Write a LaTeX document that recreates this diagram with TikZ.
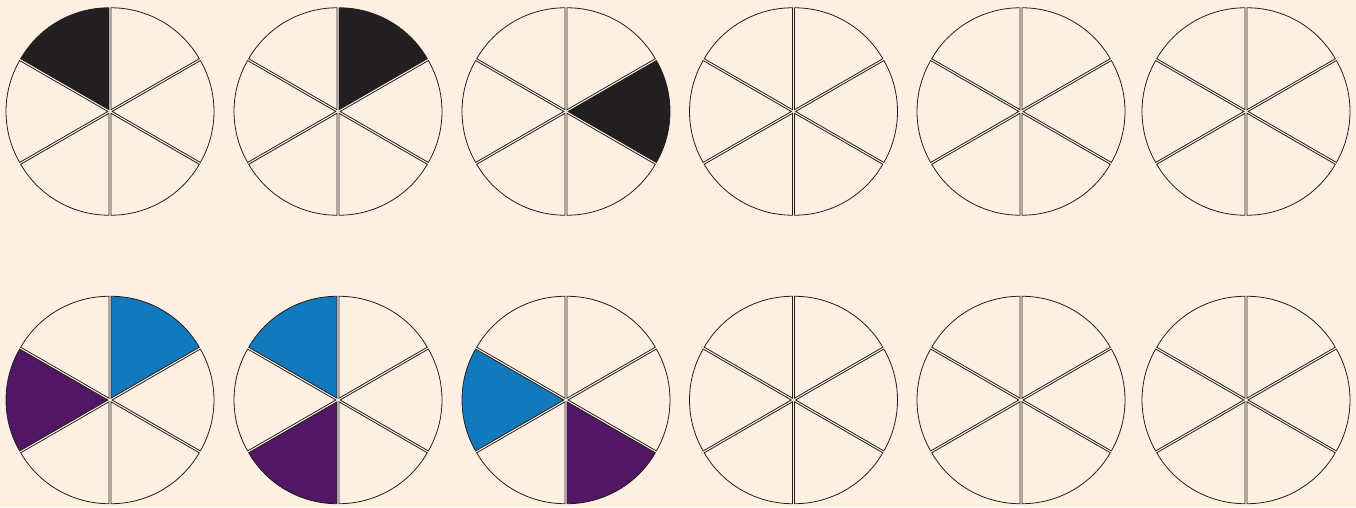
\documentclass[tikz,border=0pt]{standalone}
\definecolor{bg}{RGB}{253,240,227}
\definecolor{inkblack}{RGB}{35,31,32}
\definecolor{pieblue}{RGB}{19,121,189}
\definecolor{piepurple}{RGB}{81,22,100}
\tikzset{
  sect/.style={draw=inkblack, line width=0.6pt, line join=miter},
  pics/wheel/.style n args={6}{code={
    \foreach \a/\c in {90/#1,30/#2,-30/#3,-90/#4,210/#5,150/#6}{
      \draw[sect, fill=\c] (\a+30:1.6pt) -- ++(\a:76.4pt)
        arc[start angle=\a, end angle=\a+60, radius=76.4pt] -- cycle;
    }
  }}
}
\begin{document}
\begin{tikzpicture}[x=0.75pt,y=0.75pt]
\fill[bg] (0,0) rectangle (1356,507);
\useasboundingbox (0,0) rectangle (1356,507);
% top row
\pic at (110,395.5) {wheel={inkblack}{bg}{bg}{bg}{bg}{bg}};
\pic at (338,395.5) {wheel={bg}{inkblack}{bg}{bg}{bg}{bg}};
\pic at (566,395.5) {wheel={bg}{bg}{inkblack}{bg}{bg}{bg}};
\pic at (793.5,395.5) {wheel={bg}{bg}{bg}{bg}{bg}{bg}};
\pic at (1021,395.5) {wheel={bg}{bg}{bg}{bg}{bg}{bg}};
\pic at (1246,395.5) {wheel={bg}{bg}{bg}{bg}{bg}{bg}};
% bottom row
\pic at (110,107) {wheel={bg}{pieblue}{bg}{bg}{bg}{piepurple}};
\pic at (338,107) {wheel={pieblue}{bg}{bg}{bg}{piepurple}{bg}};
\pic at (566,107) {wheel={bg}{bg}{bg}{piepurple}{bg}{pieblue}};
\pic at (793.5,107) {wheel={bg}{bg}{bg}{bg}{bg}{bg}};
\pic at (1021,107) {wheel={bg}{bg}{bg}{bg}{bg}{bg}};
\pic at (1246,107) {wheel={bg}{bg}{bg}{bg}{bg}{bg}};
\end{tikzpicture}
\end{document}
